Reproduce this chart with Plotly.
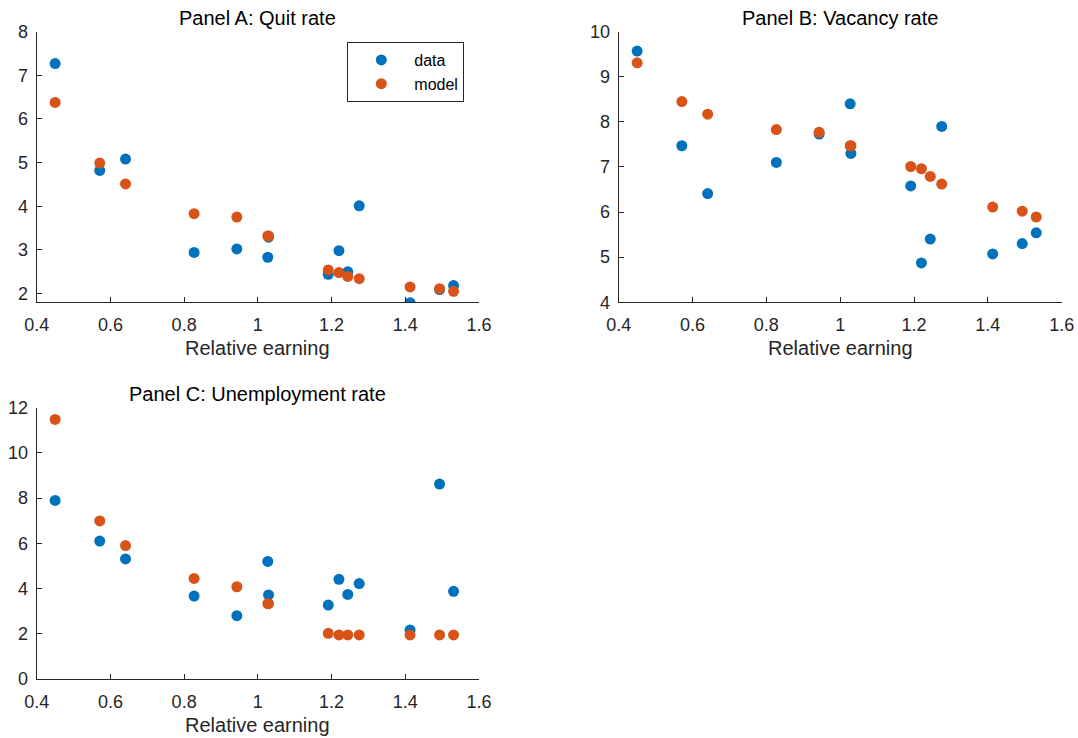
import plotly.graph_objects as go

# Data
relative_earning = [0.450, 0.571, 0.641, 0.827, 0.943, 1.027, 1.029, 1.191, 1.220, 1.244, 1.275, 1.413, 1.493, 1.531]
quit_data = [7.27, 4.82, 5.08, 2.94, 3.02, 2.83, 3.29, 2.44, 2.98, 2.50, 4.01, 1.79, 2.09, 2.18]
quit_model = [6.38, 4.99, 4.51, 3.83, 3.75, 3.32, 3.32, 2.54, 2.48, 2.39, 2.34, 2.15, 2.11, 2.05]
vac_data = [9.57, 7.47, 6.41, 7.10, 7.73, 8.40, 7.30, 6.58, 4.87, 5.40, 7.90, 5.07, 5.30, 5.54]
vac_model = [9.31, 8.45, 8.17, 7.83, 7.77, 7.47, 7.47, 7.01, 6.96, 6.79, 6.62, 6.11, 6.02, 5.89]
unemp_data = [7.90, 6.10, 5.31, 3.67, 2.80, 5.20, 3.72, 3.27, 4.41, 3.74, 4.22, 2.17, 8.62, 3.88]
unemp_model = [11.48, 6.99, 5.90, 4.45, 4.08, 3.33, 3.33, 2.02, 1.95, 1.95, 1.95, 1.95, 1.95, 1.95]

panel_titles = ["Panel A: Quit rate", "Panel B: Vacancy rate", "Panel C: Unemployment rate"]
x_label = "Relative earning"
x_ticks = [0.4, 0.6, 0.8, 1.0, 1.2, 1.4, 1.6]
x_ticktext = ["0.4", "0.6", "0.8", "1", "1.2", "1.4", "1.6"]
series_names = ["data", "model"]

BLUE = "#0072BD"
ORANGE = "#D95319"
AX = "#262626"
FONT = "Liberation Sans, Arial, Helvetica, sans-serif"

fig = go.Figure()
panels = [(quit_data, quit_model, "x", "y"),
          (vac_data, vac_model, "x2", "y2"),
          (unemp_data, unemp_model, "x3", "y3")]
for i, (d, m, xa, ya) in enumerate(panels):
    fig.add_trace(go.Scatter(x=relative_earning, y=d, mode="markers", name=series_names[0],
                             marker=dict(color=BLUE, size=11, line=dict(width=0)),
                             xaxis=xa, yaxis=ya, showlegend=(i == 0)))
    fig.add_trace(go.Scatter(x=relative_earning, y=m, mode="markers", name=series_names[1],
                             marker=dict(color=ORANGE, size=11, line=dict(width=0)),
                             xaxis=xa, yaxis=ya, showlegend=(i == 0)))

W, H = 1078, 738
def px_x(p):
    return p / W
def px_y(p):
    return 1 - p / H

xdomA = [px_x(36.7), px_x(479)]
xdomB = [px_x(618.7), px_x(1061.7)]
ydomTop = [px_y(302.2), px_y(31.7)]
ydomBot = [px_y(679), px_y(407.7)]

def xax(domain, anchor):
    return dict(domain=domain, anchor=anchor, range=[0.4, 1.6], tickvals=x_ticks, ticktext=x_ticktext,
                showline=True, linecolor=AX, linewidth=1, ticks="inside", ticklen=5, tickcolor=AX,
                showgrid=False, zeroline=False, tickfont=dict(family=FONT, size=18, color=AX),
                ticklabelstandoff=6, automargin=False)

def yax(domain, anchor, rng, tv):
    return dict(domain=domain, anchor=anchor, range=rng, tickvals=tv,
                showline=True, linecolor=AX, linewidth=1, ticks="inside", ticklen=5, tickcolor=AX,
                showgrid=False, zeroline=False, tickfont=dict(family=FONT, size=18, color=AX),
                ticklabelstandoff=4, automargin=False)

fig.update_layout(
    width=W, height=H,
    margin=dict(l=0, r=0, t=0, b=0, autoexpand=False),
    paper_bgcolor="white", plot_bgcolor="white",
    font=dict(family=FONT, color=AX),
    xaxis=xax(xdomA, "y"),
    yaxis=yax(ydomTop, "x", [1.8, 8], [2, 3, 4, 5, 6, 7, 8]),
    xaxis2=xax(xdomB, "y2"),
    yaxis2=yax(ydomTop, "x2", [4, 10], [4, 5, 6, 7, 8, 9, 10]),
    xaxis3=xax(xdomA, "y3"),
    yaxis3=yax(ydomBot, "x3", [0, 12], [0, 2, 4, 6, 8, 10, 12]),
    legend=dict(x=px_x(347.3), y=px_y(42), xanchor="left", yanchor="top",
                bordercolor=AX, borderwidth=1, bgcolor="white",
                font=dict(family=FONT, size=16, color="black"), itemwidth=56),
    showlegend=True,
    hovermode=False,
)

annots = []
title_pos = [((36.7 + 479) / 2, 17.9), ((618.7 + 1061.7) / 2, 17.9), ((36.7 + 479) / 2, 393.8)]
for t, (cx, cy) in zip(panel_titles, title_pos):
    annots.append(dict(text=t, x=px_x(cx), y=px_y(cy), xref="paper", yref="paper",
                       xanchor="center", yanchor="middle", showarrow=False,
                       font=dict(family=FONT, size=20, color="black")))
label_pos = [((36.7 + 479) / 2, 348.3), ((618.7 + 1061.7) / 2, 348.3), ((36.7 + 479) / 2, 724.7)]
for (cx, cy) in label_pos:
    annots.append(dict(text=x_label, x=px_x(cx), y=px_y(cy), xref="paper", yref="paper",
                       xanchor="center", yanchor="middle", showarrow=False,
                       font=dict(family=FONT, size=20, color=AX)))
fig.update_layout(annotations=annots)

fig.write_html("out.html",
               config={"displayModeBar": False},
               post_script="document.body.style.margin='0';document.documentElement.style.overflow='hidden';")
